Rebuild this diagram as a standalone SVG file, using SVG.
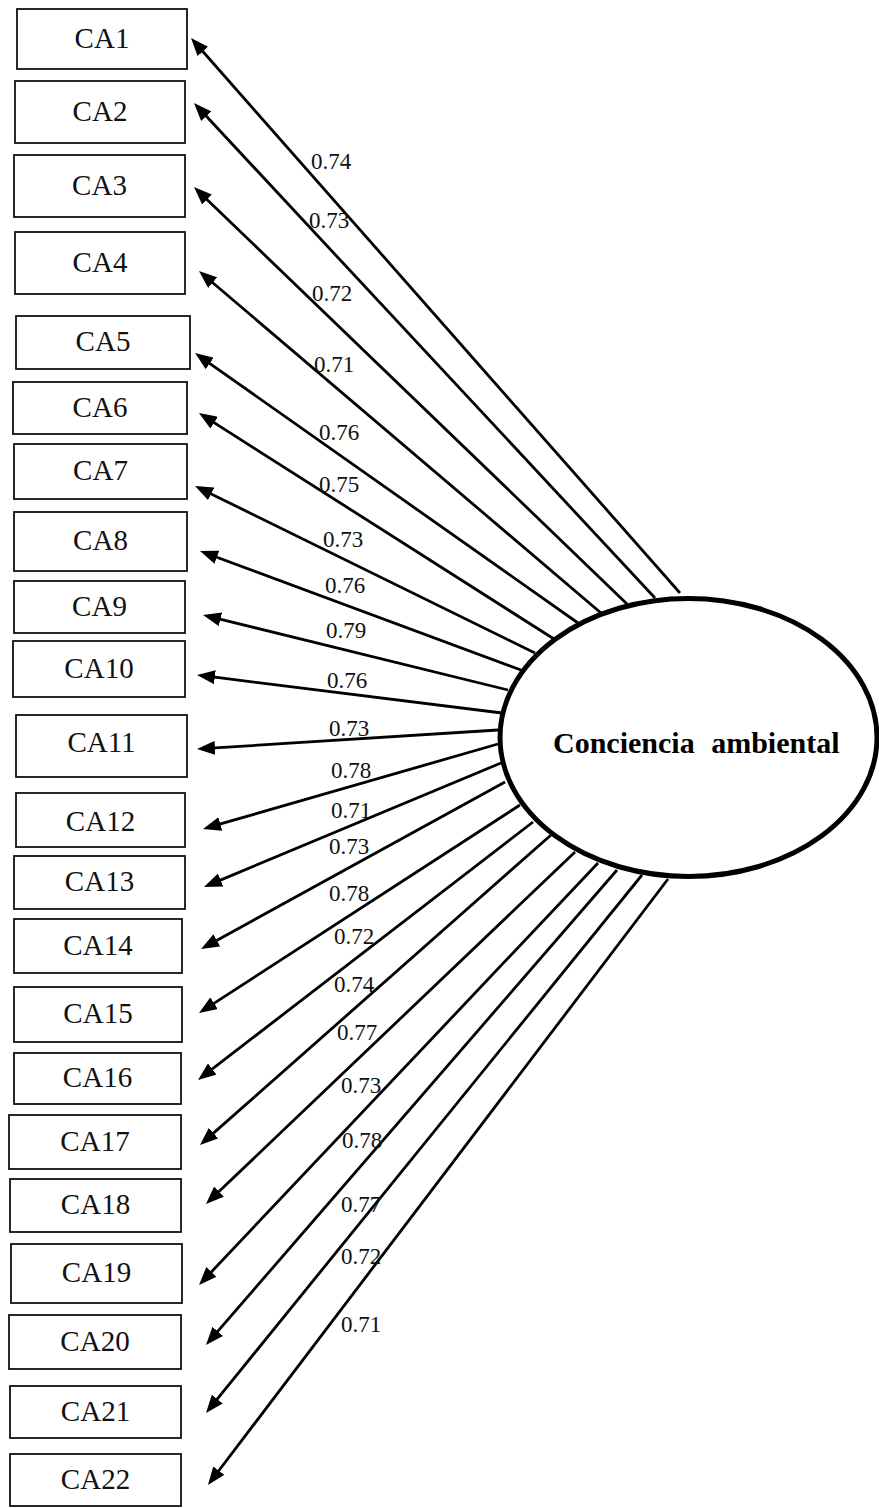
<svg xmlns="http://www.w3.org/2000/svg" width="879" height="1508" viewBox="0 0 879 1508">
<style>
.box{fill:#fff;stroke:#111;stroke-width:1.8}
.bt{font-family:"Liberation Serif","Times New Roman",serif;font-size:29px;fill:#111;text-anchor:middle}
.lb{font-family:"Liberation Serif","Times New Roman",serif;font-size:23px;fill:#111}
.cn line{stroke:#000;stroke-width:2.8;marker-end:url(#ah)}
.lat{fill:#fff;stroke:#000;stroke-width:5}
.lt{font-family:"Liberation Serif","Times New Roman",serif;font-size:30px;font-weight:bold;fill:#000}
</style>
<defs>
<marker id="ah" markerUnits="userSpaceOnUse" viewBox="0 0 18 14" markerWidth="18" markerHeight="14" refX="8" refY="7" orient="auto">
<path d="M0,0 L18,7 L0,14 z" fill="#000"/>
</marker>
</defs>
<rect width="879" height="1508" fill="#fff"/>
<g id="connectors" class="cn">
<line x1="680" y1="593" x2="197.6" y2="45.5"/>
<line x1="655" y1="598" x2="200.8" y2="110.3"/>
<line x1="627" y1="604" x2="201.2" y2="193.9"/>
<line x1="601" y1="613" x2="206.6" y2="277.5"/>
<line x1="578" y1="623" x2="203.2" y2="358.8"/>
<line x1="554" y1="639" x2="207.4" y2="418.4"/>
<line x1="535" y1="653" x2="204.0" y2="490.4"/>
<line x1="521" y1="670" x2="209.4" y2="554.5"/>
<line x1="508" y1="690" x2="212.7" y2="617.4"/>
<line x1="502" y1="713" x2="206.9" y2="676.2"/>
<line x1="498" y1="730" x2="207.0" y2="748.4"/>
<line x1="498" y1="744" x2="212.6" y2="826.2"/>
<line x1="501" y1="763" x2="213.2" y2="883.1"/>
<line x1="505" y1="782" x2="209.8" y2="944.2"/>
<line x1="520" y1="805" x2="207.4" y2="1007.6"/>
<line x1="533" y1="822" x2="205.9" y2="1073.9"/>
<line x1="551" y1="835" x2="207.5" y2="1138.4"/>
<line x1="575" y1="852" x2="213.2" y2="1197.1"/>
<line x1="598" y1="863" x2="205.9" y2="1277.7"/>
<line x1="617" y1="870" x2="212.5" y2="1337.4"/>
<line x1="642" y1="875" x2="212.3" y2="1405.2"/>
<line x1="668" y1="879" x2="214.0" y2="1477.0"/>
</g>
<g id="labels">
<text class="lb" x="311" y="169">0.74</text>
<text class="lb" x="309" y="228">0.73</text>
<text class="lb" x="312" y="301">0.72</text>
<text class="lb" x="314" y="372">0.71</text>
<text class="lb" x="319" y="440">0.76</text>
<text class="lb" x="319" y="492">0.75</text>
<text class="lb" x="323" y="547">0.73</text>
<text class="lb" x="325" y="593">0.76</text>
<text class="lb" x="326" y="638">0.79</text>
<text class="lb" x="327" y="688">0.76</text>
<text class="lb" x="329" y="736">0.73</text>
<text class="lb" x="331" y="778">0.78</text>
<text class="lb" x="331" y="818">0.71</text>
<text class="lb" x="329" y="854">0.73</text>
<text class="lb" x="329" y="901">0.78</text>
<text class="lb" x="334" y="944">0.72</text>
<text class="lb" x="334" y="992">0.74</text>
<text class="lb" x="337" y="1040">0.77</text>
<text class="lb" x="341" y="1093">0.73</text>
<text class="lb" x="342" y="1148">0.78</text>
<text class="lb" x="341" y="1212">0.77</text>
<text class="lb" x="341" y="1264">0.72</text>
<text class="lb" x="341" y="1332">0.71</text>
</g>
<g id="latent">
<ellipse class="lat" cx="688.5" cy="737.5" rx="188.5" ry="139"/>
<text class="lt" x="553" y="753" word-spacing="9">Conciencia ambiental</text>
</g>
<g id="CA1"><rect class="box" x="17" y="9" width="170" height="60"/><text class="bt" x="102" y="47.5">CA1</text></g>
<g id="CA2"><rect class="box" x="15" y="81" width="170" height="62"/><text class="bt" x="100" y="120.5">CA2</text></g>
<g id="CA3"><rect class="box" x="14" y="155" width="171" height="62"/><text class="bt" x="99.5" y="194.5">CA3</text></g>
<g id="CA4"><rect class="box" x="15" y="232" width="170" height="62"/><text class="bt" x="100" y="271.5">CA4</text></g>
<g id="CA5"><rect class="box" x="16" y="316" width="174" height="53"/><text class="bt" x="103" y="351">CA5</text></g>
<g id="CA6"><rect class="box" x="13" y="382" width="174" height="52"/><text class="bt" x="100" y="416.5">CA6</text></g>
<g id="CA7"><rect class="box" x="14" y="444" width="173" height="55"/><text class="bt" x="100.5" y="480">CA7</text></g>
<g id="CA8"><rect class="box" x="14" y="512" width="173" height="59"/><text class="bt" x="100.5" y="550">CA8</text></g>
<g id="CA9"><rect class="box" x="14" y="581" width="171" height="52"/><text class="bt" x="99.5" y="615.5">CA9</text></g>
<g id="CA10"><rect class="box" x="13" y="641" width="172" height="56"/><text class="bt" x="99" y="677.5">CA10</text></g>
<g id="CA11"><rect class="box" x="16" y="715" width="171" height="62"/><text class="bt" x="101.5" y="752">CA11</text></g>
<g id="CA12"><rect class="box" x="16" y="793" width="169" height="54"/><text class="bt" x="100.5" y="831">CA12</text></g>
<g id="CA13"><rect class="box" x="14" y="856" width="171" height="53"/><text class="bt" x="99.5" y="891">CA13</text></g>
<g id="CA14"><rect class="box" x="14" y="919" width="168" height="54"/><text class="bt" x="98" y="955">CA14</text></g>
<g id="CA15"><rect class="box" x="14" y="987" width="168" height="55"/><text class="bt" x="98" y="1023">CA15</text></g>
<g id="CA16"><rect class="box" x="14" y="1053" width="167" height="51"/><text class="bt" x="97.5" y="1087">CA16</text></g>
<g id="CA17"><rect class="box" x="9" y="1115" width="172" height="54"/><text class="bt" x="95" y="1151">CA17</text></g>
<g id="CA18"><rect class="box" x="10" y="1179" width="171" height="53"/><text class="bt" x="95.5" y="1214">CA18</text></g>
<g id="CA19"><rect class="box" x="11" y="1244" width="171" height="59"/><text class="bt" x="96.5" y="1282">CA19</text></g>
<g id="CA20"><rect class="box" x="9" y="1315" width="172" height="54"/><text class="bt" x="95" y="1351">CA20</text></g>
<g id="CA21"><rect class="box" x="10" y="1386" width="171" height="52"/><text class="bt" x="95.5" y="1421">CA21</text></g>
<g id="CA22"><rect class="box" x="10" y="1454" width="171" height="52"/><text class="bt" x="95.5" y="1489">CA22</text></g>
</svg>
